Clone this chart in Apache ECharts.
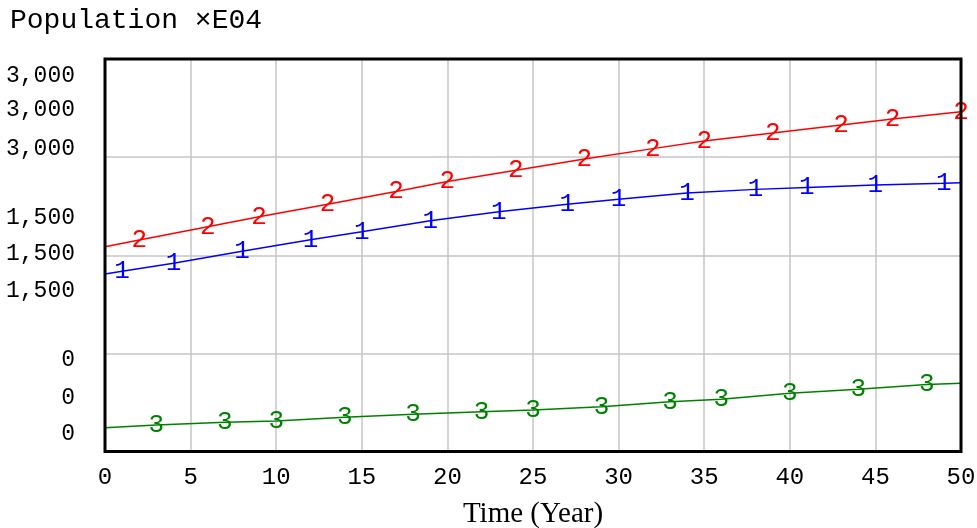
<!DOCTYPE html>
<html>
<head>
<meta charset="utf-8">
<script src="https://cdn.jsdelivr.net/npm/echarts@6/dist/echarts.min.js"></script>
<style>
  html, body { margin: 0; padding: 0; background: #fff; }
  #chart { width: 977px; height: 528px; }
</style>
</head>
<body>
<div id="chart"></div>
<script>
// ---- data (display scale of the chart, Population ×E04) ----
const xTicks = [0, 5, 10, 15, 20, 25, 30, 35, 40, 45, 50];

// series 1 (blue)
const s1Years  = [0, 1, 4, 8, 12, 15, 19, 23, 27, 30, 34, 38, 41, 45, 49, 50];
const s1Values = [1213, 1255, 1378, 1562, 1738, 1860, 2028, 2166, 2280, 2357, 2452, 2507, 2537, 2574, 2601, 2609];
const s1Marks  = [1, 4, 8, 12, 15, 19, 23, 27, 30, 34, 38, 41, 45, 49];

// series 2 (red)
const s2Years  = [0, 2, 6, 9, 13, 17, 20, 24, 28, 32, 35, 39, 43, 46, 50];
const s2Values = [1631, 1733, 1936, 2088, 2280, 2476, 2627, 2799, 2971, 3130, 3246, 3369, 3491, 3583, 3694];
const s2Marks  = [2, 6, 9, 13, 17, 20, 24, 28, 32, 35, 39, 43, 46, 50];

// series 3 (green)
const s3Years  = [0, 3, 7, 10, 14, 18, 22, 25, 29, 33, 36, 40, 44, 48, 50];
const s3Values = [-1136, -1095, -1054, -1034, -977, -931, -892, -866, -815, -739, -702, -610, -549, -476, -458];
const s3Marks  = [3, 7, 10, 14, 18, 22, 25, 29, 33, 36, 40, 44, 48];

// y tick labels
const yTickValues = [0, 1500, 3000];
const yTickLabels = ['0', '1,500', '3,000'];
// extra stacked scale labels (other variables' scales)
const extraLabels = ['3,000', '3,000', '1,500', '1,500', '0', '0'];

const titleText = 'Population \u00D7E04';
const xName = 'Time (Year)';

// ---- styling / layout ----
const MONO = '"Liberation Mono", "DejaVu Sans Mono", monospace';
const SERIF = '"Liberation Serif", "DejaVu Serif", serif';
const extraLabelY = [75, 109, 217, 290, 397, 433];

function buildData(years, values, marks) {
  return years.map((t, i) => ({
    value: [t, values[i]],
    label: { show: marks.indexOf(t) >= 0 }
  }));
}

function lineSeries(name, years, values, marks, color, num) {
  return {
    name: name,
    type: 'line',
    data: buildData(years, values, marks),
    symbol: 'circle',
    symbolSize: 0.01,
    showSymbol: true,
    showAllSymbol: true,
    lineStyle: { color: color, width: 1.5 },
    itemStyle: { color: color },
    clip: false,
    animation: false,
    label: {
      show: false,
      position: 'inside',
      offset: [0, 5],
      formatter: String(num),
      color: color,
      fontFamily: MONO,
      fontSize: 26
    },
    labelLayout: { hideOverlap: false },
    emphasis: { disabled: true },
    z: 3
  };
}

const chart = echarts.init(document.getElementById('chart'), null, { renderer: 'canvas' });

const option = {
  animation: false,
  backgroundColor: '#ffffff',
  title: {
    text: titleText,
    left: 10,
    top: 7,
    padding: 0,
    textStyle: { fontFamily: MONO, fontSize: 28, fontWeight: 'normal', color: '#000' }
  },
  grid: {
    left: 105,
    right: 16,
    top: 59,
    bottom: 76.5,
    outerBoundsMode: 'none',
    containLabel: false,
    show: true,
    borderColor: '#000',
    borderWidth: 3,
    backgroundColor: 'transparent',
    z: 4
  },
  xAxis: {
    type: 'value',
    min: 0,
    max: 50,
    interval: 5,
    name: xName,
    nameLocation: 'middle',
    nameGap: 48,
    nameTextStyle: { fontFamily: SERIF, fontSize: 29, color: '#000' },
    axisLine: { show: false },
    axisTick: { show: false },
    splitLine: { show: true, lineStyle: { color: '#c6c6c6', width: 1.5 } },
    axisLabel: {
      margin: 14,
      fontFamily: MONO,
      fontSize: 24,
      color: '#000',
      showMinLabel: true,
      showMaxLabel: true,
      formatter: function (v) { return xTicks.indexOf(v) >= 0 ? String(v) : ''; }
    }
  },
  yAxis: {
    type: 'value',
    min: -1500,
    max: 4500,
    interval: 1500,
    axisLine: { show: false },
    axisTick: { show: false },
    splitLine: { show: true, lineStyle: { color: '#c6c6c6', width: 1.5 } },
    axisLabel: {
      margin: 30,
      fontFamily: MONO,
      fontSize: 23,
      color: '#000',
      formatter: function (v) {
        const i = yTickValues.indexOf(v);
        if (i < 0) return '';
        const style = ['d', 'm', 'u'][i];
        return '{' + style + '|' + yTickLabels[i] + '}';
      },
      rich: {
        u: { fontFamily: MONO, fontSize: 23, color: '#000', padding: [0, 0, 16, 0] },
        m: { fontFamily: MONO, fontSize: 23, color: '#000', padding: [0, 0, 2, 0] },
        d: { fontFamily: MONO, fontSize: 23, color: '#000', padding: [14, 0, 0, 0] }
      }
    }
  },
  graphic: extraLabels.map((txt, i) => ({
    type: 'text',
    x: 75,
    y: extraLabelY[i] + 1,
    silent: true,
    style: {
      text: txt,
      fill: '#000',
      font: '23px ' + MONO,
      align: 'right',
      verticalAlign: 'middle',
      textAlign: 'right',
      textVerticalAlign: 'middle'
    }
  })),
  series: [
    lineSeries('1', s1Years, s1Values, s1Marks, '#0000ff', 1),
    lineSeries('2', s2Years, s2Values, s2Marks, '#ff0000', 2),
    lineSeries('3', s3Years, s3Values, s3Marks, '#008000', 3)
  ]
};

chart.setOption(option);
</script>
</body>
</html>
